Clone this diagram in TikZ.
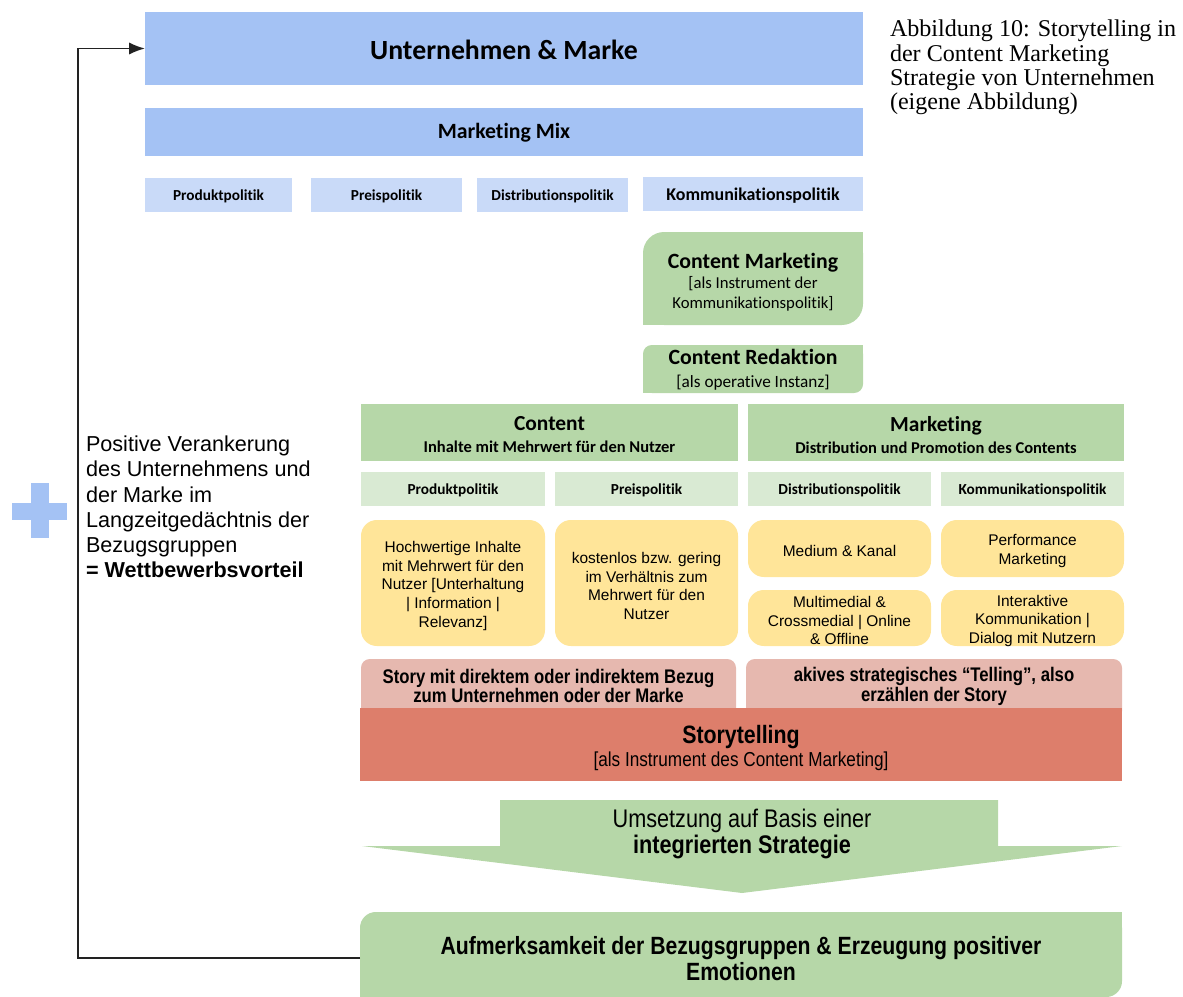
\documentclass[tikz,border=0pt]{standalone}
\usepackage{fontspec}
\setmainfont{Liberation Serif}
\newfontfamily\calfont{Carlito}[Ligatures=NoCommon]
\newfontfamily\arifont{Liberation Sans}
\newfontfamily\narfont{Liberation Sans}[FakeStretch=0.85]
\usetikzlibrary{fit,arrows.meta}
\definecolor{blueA}{HTML}{A4C2F4}
\definecolor{blueB}{HTML}{C9DAF8}
\definecolor{greenA}{HTML}{B6D7A8}
\definecolor{greenB}{HTML}{D9EAD3}
\definecolor{yell}{HTML}{FFE599}
\definecolor{pinkA}{HTML}{E6B8AF}
\definecolor{redA}{HTML}{DD7E6B}
\definecolor{lineC}{HTML}{222222}
\newcommand\fsz[2]{\fontsize{#1pt}{#2pt}\selectfont}
\tikzset{
  box/.style={inner sep=0pt, outer sep=0pt},
  txt/.style={inner sep=0pt, outer sep=0pt, align=center, text=black},
  bluerow/.style={box, fill=blueB},
  bluetxt/.style={txt, yshift=-0.8pt, font=\calfont\bfseries\fsz{8.7}{10}},
  greenrow/.style={box, fill=greenB},
  yelbox/.style={box, fill=yell, rounded corners=9pt},
  yeltxt/.style={txt, yshift=-1.6pt, font=\arifont\fsz{8.8}{10.6}},
  pinktxt/.style={txt, font=\narfont\bfseries\fsz{11.2}{11.3}},
  feedback/.style={draw=lineC, line width=1.1pt, -{Latex[length=9pt,width=7pt]}}
}
\begin{document}
\begin{tikzpicture}[x=0.02cm,y=-0.02cm]
\useasboundingbox (0,0) rectangle (1183,997);

% top blue
\node[box, fill=blueA, fit={(145,12)(863,85)}] (um) {};
\node[txt, font=\calfont\bfseries\fsz{15.8}{19}] (umt) at (504,50) {Unternehmen \& Marke};
\node[box, fill=blueA, fit={(145,108)(863,156)}] (mm) {};
\node[txt, font=\calfont\bfseries\fsz{12.4}{15}] (mmt) at (504,133) {Marketing Mix};
\node[bluerow, fit={(145,178)(292,212)}] (p1) {};
\node[bluetxt] (p1t) at (p1) {Produktpolitik};
\node[bluerow, fit={(311,178)(462,212)}] (p2) {};
\node[bluetxt] (p2t) at (p2) {Preispolitik};
\node[bluerow, fit={(477,178)(628,212)}] (p3) {};
\node[bluetxt] (p3t) at (p3) {Distributionspolitik};
\node[bluerow, fit={(643,177)(863,211)}] (p4) {};
\node[bluetxt, font=\calfont\bfseries\fsz{10.2}{12}] (p4t) at (p4) {Kommunikationspolitik};

% Content Marketing
\fill[greenA, rounded corners=12pt] (643,232) rectangle (863,325);
\fill[greenA] (833,232) rectangle (863,262);
\fill[greenA] (643,295) rectangle (673,325);
\node[box, fit={(643,232)(863,325)}] (cm) {};
\node[txt, font=\calfont\fsz{9.5}{11.3}] (cmt) at (753,282)
  {{\bfseries\fsz{12.4}{14}Content Marketing}\\{[als Instrument der}\\Kommunikationspolitik]};

% Content Redaktion
\fill[greenA, rounded corners=5pt] (643,345) rectangle (863,393);
\fill[greenA] (843,345) rectangle (863,365);
\fill[greenA] (643,373) rectangle (663,393);
\node[box, fit={(643,345)(863,393)}] (cr) {};
\node[txt, font=\calfont\fsz{9.8}{13}] (crt) at (753,370)
  {{\bfseries\fsz{12.4}{14}Content Redaktion}\\{[als operative Instanz]}};

% headers
\node[box, fill=greenA, fit={(361,404)(738,461)}] (hc) {};
\node[txt, font=\calfont\bfseries\fsz{9.4}{12.5}] (hct) at (549.5,435)
  {{\fsz{12.2}{14}Content}\\Inhalte mit Mehrwert für den Nutzer};
\node[box, fill=greenA, fit={(748,404)(1124,461)}] (hm) {};
\node[txt, font=\calfont\bfseries\fsz{9.4}{12.5}] (hmt) at (936,435)
  {{\fsz{12.2}{14}Marketing}\\Distribution und Promotion des Contents};

% light green row
\node[greenrow, fit={(361,472)(545,506)}] (g1) {};
\node[bluetxt] (g1t) at (g1) {Produktpolitik};
\node[greenrow, fit={(555,472)(738,506)}] (g2) {};
\node[bluetxt] (g2t) at (g2) {Preispolitik};
\node[greenrow, fit={(748,472)(931,506)}] (g3) {};
\node[bluetxt] (g3t) at (g3) {Distributionspolitik};
\node[greenrow, fit={(941,472)(1124,506)}] (g4) {};
\node[bluetxt] (g4t) at (g4) {Kommunikationspolitik};

% yellow boxes
\node[yelbox, fit={(361,520)(545,646)}] (y1) {};
\node[yeltxt] (y1t) at (y1) {Hochwertige Inhalte\\mit Mehrwert für den\\Nutzer [Unterhaltung\\| Information |\\Relevanz]};
\node[yelbox, fit={(555,520)(738,646)}] (y2) {};
\node[yeltxt] (y2t) at (y2) {kostenlos bzw. gering\\im Verhältnis zum\\Mehrwert für den\\Nutzer};
\node[yelbox, fit={(748,520)(931,577)}] (y3) {};
\node[yeltxt] (y3t) at (y3) {Medium \& Kanal};
\node[yelbox, fit={(941,520)(1124,577)}] (y4) {};
\node[yeltxt] (y4t) at (y4) {Performance\\Marketing};
\node[yelbox, fit={(748,590)(931,646)}] (y5) {};
\node[yeltxt] (y5t) at (y5) {Multimedial \&\\Crossmedial | Online\\\& Offline};
\node[yelbox, fit={(941,590)(1124,646)}] (y6) {};
\node[yeltxt] (y6t) at (y6) {Interaktive\\Kommunikation |\\Dialog mit Nutzern};

% pink boxes
\fill[pinkA, rounded corners=5pt] (361,659) rectangle (736,720);
\fill[pinkA, rounded corners=5pt] (746,659) rectangle (1122,720);
\node[box, fit={(361,659)(736,708)}] (s1) {};
\node[pinktxt] (s1t) at (548.5,686) {Story mit direktem oder indirektem Bezug\\zum Unternehmen oder der Marke};
\node[box, fit={(746,659)(1122,708)}] (s2) {};
\node[pinktxt] (s2t) at (934,686) {akives strategisches “Telling”, also\\erzählen der Story};

% storytelling
\node[box, fill=redA, fit={(360,708)(1122,781)}] (st) {};
\node[txt, font=\narfont\fsz{11.5}{12.8}] (stt) at (741,748)
  {{\bfseries\fsz{14.3}{15}Storytelling}\\{[als Instrument des Content Marketing]}};

% big arrow
\fill[greenA] (500,800) -- (998,800) -- (998,846) -- (1122,846) -- (742,893) -- (362,846) -- (500,846) -- cycle;
\node[txt, font=\narfont\fsz{14.5}{15}] (at) at (742,834) {Umsetzung auf Basis einer\\{\bfseries integrierten Strategie}};

% bottom box
\fill[greenA, rounded corners=9pt] (360,912) rectangle (1122,997);
\fill[greenA] (1100,912) rectangle (1122,940);
\fill[greenA] (360,975) rectangle (390,997);
\node[box, fit={(360,912)(1122,997)}] (bt) {};
\node[txt, font=\narfont\bfseries\fsz{14.2}{14.8}] (btt) at (741,959)
  {Aufmerksamkeit der Bezugsgruppen \& Erzeugung positiver\\Emotionen};

% feedback
\coordinate (fb) at (78,958);
\draw[feedback] (bt.west |- 0,958) -- (fb) |- (um.west);

% plus sign
\fill[blueA] (12,503) rectangle (67,520);
\fill[blueA] (31,483) rectangle (49,538);

% left text
\node[txt, align=left, anchor=north west, font=\arifont\fsz{12.3}{14.35}] (lt) at (86,436)
  {Positive Verankerung\\des Unternehmens und\\der Marke im\\Langzeitgedächtnis der\\Bezugsgruppen\\\textbf{= Wettbewerbsvorteil}};

% caption
\node[txt, align=left, anchor=north west, font=\fsz{13.7}{13.9}] (cap) at (890,20)
  {Abbildung 10: Storytelling in\\der Content Marketing\\Strategie von Unternehmen\\(eigene Abbildung)};
\end{tikzpicture}
\end{document}
